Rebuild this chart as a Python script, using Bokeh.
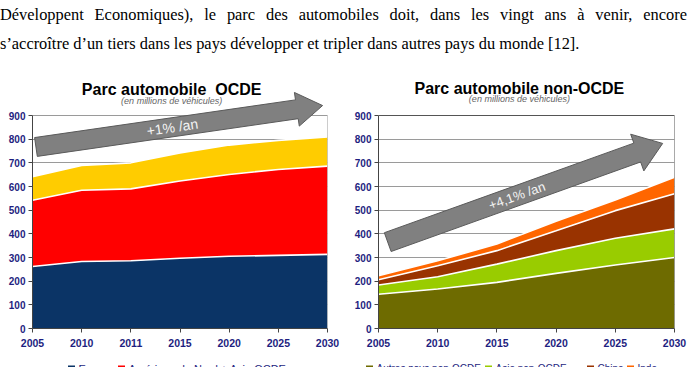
import math
from bokeh.plotting import figure
from bokeh.models import ColumnDataSource, Range1d, FixedTicker, Div
from bokeh.layouts import column, row
from bokeh.embed import file_html
from bokeh.resources import INLINE
from bokeh.core.properties import value

# ---------------- data (millions of vehicles) ----------------
ocde_years = ["2005", "2010", "2011", "2015", "2020", "2025", "2030"]
ocde_europe = [262, 283, 286, 297, 305, 309, 313]
ocde_amerique_asie = [280, 301, 304, 326, 346, 363, 373]
ocde_autres = [99, 105, 110, 119, 124, 123, 123]
ocde_colors = ["#0b3466", "#ff0000", "#ffcc00"]
ocde_labels = ["Europe", "Amérique du Nord + Asie OCDE"]

non_ocde_years = ["2005", "2010", "2015", "2020", "2025", "2030"]
non_ocde_autres = [145, 167, 195, 233, 268, 300]
non_ocde_asie = [39, 52, 77, 96, 113, 121]
non_ocde_chine = [22, 46, 57, 84, 117, 148]
non_ocde_inde = [17, 21, 28, 40, 45, 70]
non_ocde_colors = ["#6e6b00", "#99cc00", "#993300", "#ff6600"]
non_ocde_labels = ["Autres pays non-OCDE", "Asie non-OCDE", "Chine", "Inde"]

y_ticks = [0, 100, 200, 300, 400, 500, 600, 700, 800, 900]

paragraph_line1 = ("Développent Economiques), le parc des automobiles doit, dans les vingt "
                   "ans à venir, encore")
paragraph_line2 = ("s\u2019accroître d\u2019un tiers dans les pays développer et tripler "
                   "dans autres pays du monde [12].")

FONT = "Liberation Sans"
NAVY = "#1e1e80"

CHART_H = 298
BORDER_BOTTOM = 32
FRAME_H = CHART_H - BORDER_BOTTOM
PX_PER_UNIT_Y = 213.0 / 900.0          # 900 million vehicles span 213 px
Y_TOP = FRAME_H / PX_PER_UNIT_Y


def stacked_chart(years, layers, colors, width, border_left, border_right,
                  title, arrow, arrow_text, frame_color):
    n = len(years)
    x = list(range(n))
    p = figure(width=width, height=CHART_H, output_backend="svg",
               toolbar_location=None, x_range=Range1d(0, n - 1),
               y_range=Range1d(0, Y_TOP), min_border_left=border_left,
               min_border_right=border_right, min_border_top=0,
               min_border_bottom=BORDER_BOTTOM, background_fill_color="white",
               border_fill_color="white", outline_line_color=None)
    px_x = (width - border_left - border_right) / (n - 1)

    # grid and frame
    p.xgrid.visible = False
    p.ygrid.ticker = FixedTicker(ticks=y_ticks[1:])
    p.ygrid.grid_line_color = "#9a9a9a"
    p.ygrid.grid_line_width = 1

    # stacked areas
    data = {"x": x}
    names = []
    for i, vals in enumerate(layers):
        data[f"s{i}"] = vals
        names.append(f"s{i}")
    src = ColumnDataSource(data)
    p.varea_stack(stackers=names, x="x", color=colors, source=src)
    cum = [0] * n
    for vals in layers:
        cum = [c + v for c, v in zip(cum, vals)]
        p.line(x, cum, line_color="white", line_width=1.6)

    p.segment(x0=[0, n - 1], y0=[900, 0], x1=[n - 1, n - 1], y1=[900, 900],
              line_color=frame_color, line_width=1)

    # axes
    p.yaxis.ticker = FixedTicker(ticks=y_ticks)
    p.yaxis.bounds = (0, 900)
    p.yaxis.axis_line_color = "#444444"
    p.yaxis.major_tick_line_color = "#444444"
    p.yaxis.major_tick_out = 4
    p.yaxis.major_tick_in = 0
    p.yaxis.minor_tick_line_color = None
    p.yaxis.major_label_standoff = 3
    p.yaxis.major_label_text_font = FONT
    p.yaxis.major_label_text_font_style = "bold"
    p.yaxis.major_label_text_font_size = "10px"
    p.yaxis.major_label_text_color = NAVY

    p.xaxis.ticker = FixedTicker(ticks=x)
    p.xaxis.major_label_overrides = {i: y for i, y in enumerate(years)}
    p.xaxis.axis_line_color = "#444444"
    p.xaxis.major_tick_line_color = "#444444"
    p.xaxis.major_tick_out = 4
    p.xaxis.major_tick_in = 0
    p.xaxis.minor_tick_line_color = None
    p.xaxis.major_label_standoff = 6
    p.xaxis.major_label_text_font = FONT
    p.xaxis.major_label_text_font_style = "bold"
    p.xaxis.major_label_text_font_size = "10.5px"
    p.xaxis.major_label_text_color = NAVY

    # titles
    tx, t_y, sub_y = title["x"], title["y"], title["sub_y"]
    p.text(x=[tx], y=[t_y], text=[title["text"]], text_font=value(FONT),
           text_font_style="bold", text_font_size="16px", text_color="black",
           text_align="center", text_baseline="alphabetic")
    p.text(x=[tx], y=[sub_y], text=["(en millions de véhicules)"],
           text_font=value(FONT), text_font_style="italic",
           text_font_size="9px", text_color="#666666",
           text_align="center", text_baseline="alphabetic")

    # growth arrow, built in pixel space and mapped back to data units
    (x0, y0), (x1, y1) = arrow["tail"], arrow["tip"]
    ax0, ay0 = x0 * px_x, y0 * PX_PER_UNIT_Y
    ax1, ay1 = x1 * px_x, y1 * PX_PER_UNIT_Y
    L = math.hypot(ax1 - ax0, ay1 - ay0)
    ux, uy = (ax1 - ax0) / L, (ay1 - ay0) / L
    nx, ny = -uy, ux
    bx, by = ax1 - ux * arrow["head_len"], ay1 - uy * arrow["head_len"]
    hs, hw = arrow["shaft"] / 2, arrow["head_w"] / 2
    pts = [(ax0 + nx * hs, ay0 + ny * hs), (bx + nx * hs, by + ny * hs),
           (bx + nx * hw, by + ny * hw), (ax1, ay1),
           (bx - nx * hw, by - ny * hw), (bx - nx * hs, by - ny * hs),
           (ax0 - nx * hs, ay0 - ny * hs)]
    p.patch([q[0] / px_x for q in pts], [q[1] / PX_PER_UNIT_Y for q in pts],
            fill_color="#808080", line_color="#5a5a5a", line_width=1)
    f = arrow["text_at"]
    cx, cy = ax0 + (ax1 - ax0) * f, ay0 + (ay1 - ay0) * f
    p.text(x=[cx / px_x], y=[cy / PX_PER_UNIT_Y], text=[arrow_text],
           angle=math.atan2(ay1 - ay0, ax1 - ax0), text_font=value(FONT),
           text_font_size=arrow["font"], text_color="#f4f4f4",
           text_align="center", text_baseline="middle")
    return p


left = stacked_chart(
    ocde_years, [ocde_europe, ocde_amerique_asie, ocde_autres], ocde_colors,
    width=344, border_left=32, border_right=17,
    title={"text": "Parc automobile\u00a0 OCDE", "x": 2.83, "y": 1010, "sub_y": 962},
    arrow={"tail": (0.07, 767), "tip": (5.90, 942), "shaft": 19, "head_w": 34,
           "head_len": 26, "text_at": 0.476, "font": "14px"},
    arrow_text="+1% /an", frame_color="#9a9a9a")

right = stacked_chart(
    non_ocde_years, [non_ocde_autres, non_ocde_asie, non_ocde_chine, non_ocde_inde],
    non_ocde_colors, width=345, border_left=34, border_right=15,
    title={"text": "Parc automobile non-OCDE", "x": 2.38, "y": 1012, "sub_y": 968},
    arrow={"tail": (0.156, 365), "tip": (4.80, 782), "shaft": 20, "head_w": 39,
           "head_len": 27, "text_at": 0.47, "font": "13px"},
    arrow_text="+4,1% /an", frame_color="#555555")

# legend strip under both charts (pixel units, runs past the page bottom)
leg = figure(width=689, height=30, output_backend="svg", toolbar_location=None,
             x_range=Range1d(0, 689), y_range=Range1d(30, 0),
             x_axis_type=None, y_axis_type=None, min_border=0,
             outline_line_color=None, background_fill_color="white",
             border_fill_color="white")
leg.grid.visible = False
groups = [([78, 128], ocde_labels, ocde_colors[:len(ocde_labels)], "11px"),
          ([376, 495, 597, 637], non_ocde_labels, non_ocde_colors, "10px")]
for xs, labels, colors, size in groups:
    leg.scatter(x=[lx - 7 for lx in xs], y=[8.5] * len(xs), marker="square",
                size=7, color=colors, line_color=None)
    leg.text(x=xs, y=[2] * len(xs), text=labels, text_font=value(FONT),
             text_font_size=size, text_color=NAVY, text_align="left",
             text_baseline="top")

para = Div(
    text=(f'<div style="text-align:justify;text-align-last:justify;width:687px">'
          f'{paragraph_line1}</div><div>{paragraph_line2}</div>'),
    width=689, height=62,
    styles={"font-family": "'Liberation Serif'", "font-size": "16.4px",
            "line-height": "29px", "color": "black", "margin": "0",
            "padding": "0"})

page = column(para, row(left, right, spacing=0), leg, spacing=0)

open("out.html", "w").write(file_html(page, INLINE))
